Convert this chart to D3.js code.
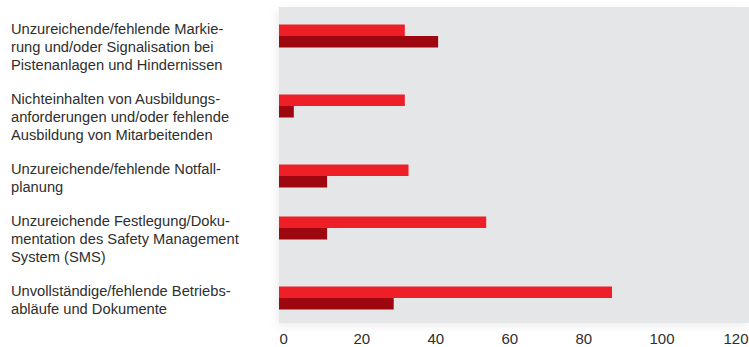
<!DOCTYPE html>
<html>
<head>
<meta charset="utf-8">
<script src="https://cdn.jsdelivr.net/npm/d3@7"></script>
<style>
  html, body { margin: 0; padding: 0; background: #ffffff; }
  svg { display: block; }
  text { font-family: "Liberation Sans", Arial, Helvetica, sans-serif; fill: #2e2e2e; }
</style>
</head>
<body>
<svg id="chart" width="749" height="347"></svg>
<script>
// Category labels, already split into the lines they are set in
const categories = [
  ["Unzureichende/fehlende Markie-", "rung und/oder Signalisation bei", "Pistenanlagen und Hindernissen"],
  ["Nichteinhalten von Ausbildungs-", "anforderungen und/oder fehlende", "Ausbildung von Mitarbeitenden"],
  ["Unzureichende/fehlende Notfall-", "planung"],
  ["Unzureichende Festlegung/Doku-", "mentation des Safety Management", "System (SMS)"],
  ["Unvollständige/fehlende Betriebs-", "abläufe und Dokumente"]
];
// Number of findings per category, two series
const seriesA = [34, 34, 35, 56, 90];   // bright red (upper bar)
const seriesB = [43, 4, 13, 13, 31];    // dark red (lower bar)
const xTicks = [0, 20, 40, 60, 80, 100, 120];

const panel = { left: 279, top: 7, right: 749, bottom: 323 };
const labelX = 11;
const lineH = 18;
const blockGap = 16;
const firstBaseline = 34;
const barH = 11.5;

const svg = d3.select("#chart");

// soft shadow behind the grey plot panel
const defs = svg.append("defs");
const f = defs.append("filter").attr("id", "panelShadow")
  .attr("x", "-10%").attr("y", "-10%").attr("width", "120%").attr("height", "120%");
f.append("feDropShadow").attr("dx", -2).attr("dy", 3).attr("stdDeviation", 4)
  .attr("flood-color", "#000").attr("flood-opacity", 0.07);

svg.append("rect")
  .attr("x", panel.left).attr("y", panel.top)
  .attr("width", panel.right - panel.left).attr("height", panel.bottom - panel.top)
  .attr("fill", "#e5e6e8")
  .attr("filter", "url(#panelShadow)");

const x = d3.scaleLinear().domain([0, 120]).range([panel.left, 723]);

// Stack the label blocks: each row starts where the previous block ends plus a gap
const rows = [];
let baseline = firstBaseline;
categories.forEach((lines, i) => {
  rows.push({ lines, baseline, a: seriesA[i], b: seriesB[i] });
  baseline += lines.length * lineH + blockGap;
});

const fontSize = 14.7;

// Category labels
const labels = svg.append("g").attr("class", "labels");
rows.forEach(r => {
  const t = labels.append("text")
    .attr("x", labelX).attr("y", r.baseline)
    .style("font-size", fontSize + "px");
  r.lines.forEach((ln, j) => {
    t.append("tspan").attr("x", labelX).attr("y", r.baseline + j * lineH).text(ln);
  });
});

// Bars: the pair sits level with the first line of its label
const barTop = r => r.baseline - 9.5;
const bars = svg.append("g").attr("class", "bars");
bars.selectAll("rect.a").data(rows).join("rect")
  .attr("class", "a")
  .attr("x", x(0))
  .attr("y", d => barTop(d))
  .attr("width", d => x(d.a) - x(0))
  .attr("height", barH)
  .attr("fill", "#ee1f26");
bars.selectAll("rect.b").data(rows).join("rect")
  .attr("class", "b")
  .attr("x", x(0))
  .attr("y", d => barTop(d) + barH)
  .attr("width", d => x(d.b) - x(0))
  .attr("height", barH)
  .attr("fill", "#9e0610");

// Value axis, labels set flush left at each tick
const axis = d3.axisBottom(x).tickValues(xTicks).tickSize(0).tickPadding(0)
  .tickFormat(d3.format("d"));
const gAxis = svg.append("g").attr("transform", `translate(0, 333)`).call(axis);
gAxis.select(".domain").remove();
gAxis.selectAll("text")
  .attr("text-anchor", "start")
  .attr("dy", "0.71em")
  .style("font-size", "15px")
  .style("font-family", "'Liberation Sans', Arial, Helvetica, sans-serif")
  .attr("fill", "#2e2e2e");
</script>
</body>
</html>
